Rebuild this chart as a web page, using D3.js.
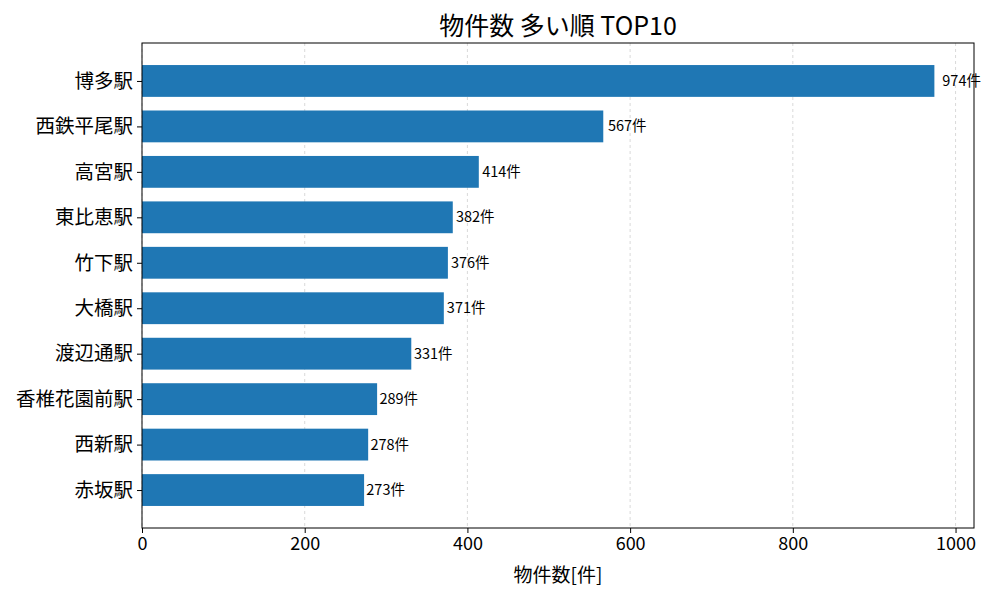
<!DOCTYPE html>
<html><head><meta charset="utf-8">
<script src="https://cdn.jsdelivr.net/npm/d3@7"></script>
<style>body{margin:0;background:#fff;} text{font-family:"Noto Sans CJK JP","Noto Sans",sans-serif;}</style>
</head><body>
<svg id="c" width="1000" height="600"></svg>
<script>
const stations = ["博多駅","西鉄平尾駅","高宮駅","東比恵駅","竹下駅","大橋駅","渡辺通駅","香椎花園前駅","西新駅","赤坂駅"];
const counts = [974,567,414,382,376,371,331,289,278,273];
const xTicks = [0,200,400,600,800,1000];
const title = "物件数 多い順 TOP10";
const xLabel = "物件数[件]";

const svg = d3.select("#c");
const m = {l:142, r:974, t:43, b:528};
const maxV = d3.max(counts);
const x = d3.scaleLinear().domain([0, maxV*1.05]).range([m.l, m.r]);
const lo = -0.35, hi = stations.length - 1 + 0.35, pad = (hi-lo)*0.05;
const y = d3.scaleLinear().domain([lo-pad, hi+pad]).range([m.t, m.b]);

svg.append("g").selectAll("line").data(xTicks).join("line")
  .attr("x1", d=>x(d)).attr("x2", d=>x(d)).attr("y1", m.t).attr("y2", m.b)
  .attr("stroke", "#b0b0b0").attr("stroke-opacity",0.6).attr("stroke-width",0.8).attr("stroke-dasharray","3,3");

svg.append("g").selectAll("rect").data(counts).join("rect")
  .attr("x", x(0)).attr("y", (d,i)=>y(i-0.35))
  .attr("width", d=>x(d)-x(0)).attr("height", (d,i)=>y(i+0.35)-y(i-0.35))
  .attr("fill", "#1f77b4");

svg.append("g").selectAll("text").data(counts).join("text")
  .attr("x", d=>x(d*1.01)).attr("y", (d,i)=>y(i)).attr("dy","0.35em")
  .attr("font-size", 14.5).attr("fill","#000")
  .text(d=>d+"件");

svg.append("rect").attr("x", m.l).attr("y", m.t).attr("width", m.r-m.l).attr("height", m.b-m.t)
  .attr("fill","none").attr("stroke","#000").attr("stroke-width",1);

const xa = svg.append("g").attr("transform", `translate(0,${m.b})`)
  .call(d3.axisBottom(x).tickValues(xTicks).tickSize(5).tickPadding(4).tickFormat(d3.format("d")));
xa.select(".domain").remove();
xa.selectAll("text").attr("font-size",18).attr("font-family",'"Noto Sans CJK JP",sans-serif').attr("fill","#000");
xa.selectAll("line").attr("stroke","#000");

const ya = svg.append("g").attr("transform", `translate(${m.l},0)`)
  .call(d3.axisLeft(y).tickValues(d3.range(stations.length)).tickSize(5).tickPadding(4).tickFormat(i=>stations[i]));
ya.select(".domain").remove();
ya.selectAll("text").attr("font-size",19.5).attr("font-family",'"Noto Sans CJK JP",sans-serif').attr("fill","#000");
ya.selectAll("line").attr("stroke","#000");

svg.append("text").attr("x", (m.l+m.r)/2).attr("y", 35).attr("text-anchor","middle")
  .attr("font-size",25).text(title);
svg.append("text").attr("x", (m.l+m.r)/2).attr("y", 582).attr("text-anchor","middle")
  .attr("font-size",19).text(xLabel);
</script>
</body></html>
